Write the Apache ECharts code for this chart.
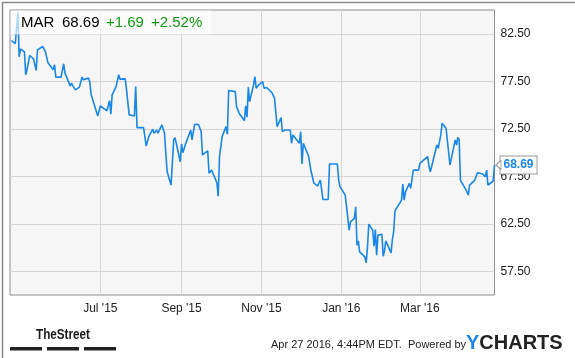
<!DOCTYPE html>
<html>
<head>
<meta charset="utf-8">
<script src="https://cdn.jsdelivr.net/npm/echarts@6/dist/echarts.min.js"></script>
<style>
html,body{margin:0;padding:0;background:#fff;}
#chart{width:575px;height:358px;}
</style>
</head>
<body>
<div id="chart"></div>
<script>
// ---- data ----
var dates = [
'2015-04-24','2015-04-27','2015-04-28','2015-04-29','2015-04-30','2015-05-01','2015-05-04','2015-05-05','2015-05-06','2015-05-07',
'2015-05-08','2015-05-11','2015-05-13','2015-05-14','2015-05-18','2015-05-20','2015-05-22','2015-05-26','2015-05-27','2015-05-28',
'2015-06-01','2015-06-03','2015-06-04','2015-06-08','2015-06-09','2015-06-10','2015-06-12','2015-06-15','2015-06-16','2015-06-17',
'2015-06-18','2015-06-22','2015-06-23','2015-06-24','2015-06-25','2015-06-29','2015-07-01','2015-07-06','2015-07-07','2015-07-08',
'2015-07-09','2015-07-10','2015-07-13','2015-07-15','2015-07-16','2015-07-20','2015-07-21','2015-07-23','2015-07-27','2015-07-28',
'2015-07-29','2015-08-03','2015-08-05','2015-08-07','2015-08-10','2015-08-11','2015-08-13','2015-08-14','2015-08-17','2015-08-19',
'2015-08-20','2015-08-21','2015-08-24','2015-08-25','2015-08-26','2015-08-27','2015-08-28','2015-08-31','2015-09-01','2015-09-02',
'2015-09-04','2015-09-08','2015-09-09','2015-09-11','2015-09-14','2015-09-16','2015-09-17','2015-09-21','2015-09-22','2015-09-24',
'2015-09-28','2015-09-29','2015-09-30','2015-10-02','2015-10-05','2015-10-06','2015-10-07','2015-10-12','2015-10-13','2015-10-15',
'2015-10-19','2015-10-20','2015-10-21','2015-10-22','2015-10-23','2015-10-26','2015-10-27','2015-10-28','2015-10-30','2015-11-02',
'2015-11-03','2015-11-05','2015-11-09','2015-11-10','2015-11-11','2015-11-13','2015-11-16','2015-11-17','2015-11-19','2015-11-23',
'2015-11-24','2015-11-25','2015-11-30','2015-12-01','2015-12-02','2015-12-03','2015-12-07','2015-12-08','2015-12-09','2015-12-10',
'2015-12-11','2015-12-14','2015-12-16','2015-12-18','2015-12-22','2015-12-23','2015-12-29','2015-12-30','2015-12-31','2016-01-04',
'2016-01-05','2016-01-07','2016-01-08','2016-01-11','2016-01-12','2016-01-13','2016-01-14','2016-01-15','2016-01-19','2016-01-20',
'2016-01-21','2016-01-22','2016-01-25','2016-01-26','2016-01-27','2016-01-28','2016-01-29','2016-02-01','2016-02-02','2016-02-03',
'2016-02-04','2016-02-08','2016-02-09','2016-02-10','2016-02-11','2016-02-16','2016-02-17','2016-02-18','2016-02-19','2016-02-22',
'2016-02-23','2016-02-25','2016-02-29','2016-03-01','2016-03-02','2016-03-07','2016-03-08','2016-03-09','2016-03-14','2016-03-15',
'2016-03-17','2016-03-18','2016-03-21','2016-03-24','2016-03-28','2016-03-29','2016-03-30','2016-03-31','2016-04-01','2016-04-05',
'2016-04-06','2016-04-07','2016-04-08','2016-04-12','2016-04-14','2016-04-18','2016-04-20','2016-04-21','2016-04-22','2016-04-26',
'2016-04-27'
];
var prices = [
81.79,81.45,81.34,84.70,80.07,80.92,80.60,78.18,78.70,78.49,
80.21,79.86,78.63,80.81,81.16,80.63,79.44,78.70,79.23,77.93,
77.93,79.34,78.35,77.01,77.30,77.01,76.59,76.88,76.67,77.93,
77.65,77.83,77.36,76.07,75.89,73.85,74.91,74.38,74.30,75.46,
74.03,76.07,76.94,78.18,77.72,77.75,76.59,73.96,73.85,76.94,
72.62,72.62,70.69,71.67,72.45,72.03,72.37,72.03,72.90,72.03,
69.92,67.97,66.57,66.57,71.32,71.56,70.97,69.03,70.90,69.98,
70.86,72.37,71.32,72.97,72.93,72.19,69.74,70.16,67.81,68.15,
66.81,65.41,69.56,71.67,72.72,71.92,76.52,76.41,74.83,74.14,
73.35,74.91,73.71,76.88,75.36,77.12,78.00,76.77,77.12,77.47,
76.77,76.84,76.31,76.52,75.72,72.72,73.67,72.19,72.37,72.37,
70.97,71.85,70.97,72.19,68.79,70.97,69.63,69.56,67.97,68.15,
66.81,66.47,67.10,65.06,65.06,68.79,68.79,67.10,66.40,65.52,
65.52,61.82,62.70,63.06,64.28,60.24,60.70,59.54,59.01,58.38,
60.06,62.46,61.82,60.14,61.90,59.19,61.30,61.40,59.08,59.64,
60.70,59.43,60.84,61.65,63.86,64.99,66.68,64.99,65.86,66.75,
66.22,68.15,68.15,68.86,68.68,69.56,68.50,67.97,70.79,70.44,
71.85,73.08,72.55,68.68,71.32,70.79,71.60,71.32,67.10,66.12,
65.86,65.52,66.57,67.10,67.87,67.73,67.45,68.15,66.57,67.00,
68.69
];
var xTickDates = ['2015-07-01','2015-09-01','2015-11-01','2016-01-01','2016-03-01'];
var xTickLabels = ["Jul '15","Sep '15","Nov '15","Jan '16","Mar '16"];
var yTickValues = [57.5, 62.5, 67.5, 72.5, 77.5, 82.5];
var xMin = '2015-04-23', xMax = '2016-04-27';
var ticker = 'MAR', lastPrice = '68.69', change = '+1.69', changePct = '+2.52%';
var stamp = 'Apr 27 2016, 4:44PM EDT.  Powered by';

var LINE = '#1a87e6';
function ts(d) { return +echarts.time.parse(d); }
var seriesData = dates.map(function (d, i) { return [ts(d), prices[i]]; });
var tickTs = xTickDates.map(ts);
var lastPt = seriesData[seriesData.length - 1];
var SANS = 'Liberation Sans, Arial, sans-serif';

var chart = echarts.init(document.getElementById('chart'), null, {renderer: 'canvas'});
chart.setOption({
  animation: false,
  backgroundColor: '#fff',
  textStyle: {fontFamily: SANS},
  grid: {left: 10, top: 10, right: 80.5, bottom: 63, show: true,
         backgroundColor: '#f6f6f6', borderColor: '#8c8c8c', borderWidth: 1},
  xAxis: {
    type: 'value', min: ts(xMin), max: ts(xMax),
    axisLine: {show: false},
    axisTick: {show: false, customValues: tickTs},
    axisLabel: {customValues: tickTs, color: '#222', fontSize: 12, margin: 8,
      formatter: function (v) {
        var i = tickTs.indexOf(+v);
        return i >= 0 ? xTickLabels[i] : '';
      }},
    splitLine: {show: true, lineStyle: {color: '#d6d6d6', width: 1}}
  },
  yAxis: {
    type: 'value', position: 'right', min: 55, max: 85, interval: 2.5,
    axisLine: {show: false}, axisTick: {show: false},
    axisLabel: {color: '#222', fontSize: 12, margin: 6,
      formatter: function (v) {
        return yTickValues.indexOf(v) >= 0 ? v.toFixed(2) : '';
      }},
    splitLine: {show: true, lineStyle: {color: ['rgba(0,0,0,0)', '#d6d6d6'], width: 1}}
  },
  series: [{
    type: 'line', data: seriesData, showSymbol: false, symbol: 'none',
    lineStyle: {color: LINE, width: 1.6}, z: 3,
    endLabel: {show: true, distance: 6,
      formatter: function (p) { return p.value[1].toFixed(2); },
      color: LINE, fontWeight: 'bold', fontSize: 12,
      backgroundColor: '#fff', borderColor: '#9a9a9a', borderWidth: 1,
      padding: [3, 3, 2, 3]},
    markPoint: {
      silent: true, label: {show: false},
      data: [{coord: lastPt, symbol: 'triangle', symbolSize: [9, 5], symbolRotate: 90,
              symbolOffset: [4, 0],
              itemStyle: {color: '#fff', borderColor: '#9a9a9a', borderWidth: 1}}]
    }
  }],
  graphic: [
    {type: 'rect', left: 0, top: 0, z: 100, silent: true,
     shape: {x: 0.5, y: 0.5, width: 574, height: 357},
     style: {fill: 'none', stroke: '#8a8a8a', lineWidth: 1.5}},
    {type: 'rect', z: 50, silent: true,
     shape: {x: 10.5, y: 10.5, width: 201, height: 24},
     style: {fill: 'rgba(255,255,255,0.65)'}},
    {type: 'text', z: 51, x: 21, y: 23, style: {text: ticker, fill: '#000', font: '15px ' + SANS, textVerticalAlign: 'middle'}},
    {type: 'text', z: 51, x: 62, y: 23, style: {text: lastPrice, fill: '#000', font: '15px ' + SANS, textVerticalAlign: 'middle'}},
    {type: 'text', z: 51, x: 106, y: 23, style: {text: change, fill: '#139a13', font: '15px ' + SANS, textVerticalAlign: 'middle'}},
    {type: 'text', z: 51, x: 151, y: 23, style: {text: changePct, fill: '#139a13', font: '15px ' + SANS, textVerticalAlign: 'middle'}},
    {type: 'text', z: 51, x: 36, y: 335, scaleX: 0.78, style: {text: 'TheStreet', fill: '#1a1a1a', font: 'bold 15px ' + SANS, textVerticalAlign: 'middle'}},
    {type: 'rect', z: 51, shape: {x: 10, y: 347, width: 32, height: 3.5}, style: {fill: '#222'}},
    {type: 'rect', z: 51, shape: {x: 47, y: 347, width: 32, height: 3.5}, style: {fill: '#222'}},
    {type: 'rect', z: 51, shape: {x: 84, y: 347, width: 32, height: 3.5}, style: {fill: '#222'}},
    {type: 'text', z: 51, x: 271, y: 345, style: {text: stamp, fill: '#222', font: '11px ' + SANS, textVerticalAlign: 'middle'}},
    {type: 'text', z: 51, x: 466, y: 343, style: {
      text: '{y|Y}{c|CHARTS}', textVerticalAlign: 'middle',
      rich: {y: {fill: '#1a87e6', font: 'bold 20px ' + SANS},
             c: {fill: '#222', font: 'bold 20px ' + SANS}}}}
  ]
});
</script>
</body>
</html>
